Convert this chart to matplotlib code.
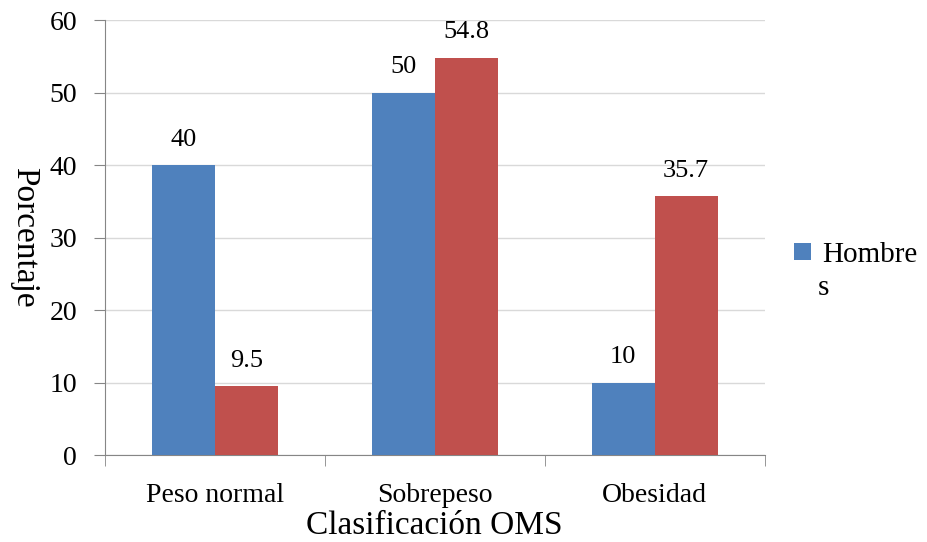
import numpy as np
import matplotlib.pyplot as plt

categorias = ["Peso normal", "Sobrepeso", "Obesidad"]
hombres = [40, 50, 10]
mujeres = [9.5, 54.8, 35.7]

plt.rcParams["font.family"] = ["Liberation Serif", "DejaVu Serif"]

fig = plt.figure(figsize=(9.27, 5.42), dpi=100)
ax = fig.add_axes([0.113, 0.1605, 0.712, 0.8025])

x = np.arange(len(categorias))
w = 0.286
b1 = ax.bar(x - w / 2, hombres, w, color="#4F81BD", label="Hombre", zorder=3)
b2 = ax.bar(x + w / 2, mujeres, w, color="#C0504D", zorder=3)

for bars, vals in ((b1, hombres), (b2, mujeres)):
    for r, v in zip(bars, vals):
        ax.text(r.get_x() + r.get_width() / 2, v + 2.0, f"{v:g}",
                ha="center", va="bottom", fontsize=19)

ax.set_xlim(-0.5, 2.5)
ax.set_ylim(0, 60)
ax.set_yticks(range(0, 61, 10))
ax.set_xticks(x)
ax.set_xticklabels(categorias, fontsize=20)
ax.set_xticks([-0.5, 0.5, 1.5, 2.5], minor=True)
ax.tick_params(axis="x", which="major", length=0, pad=20)
ax.tick_params(axis="x", which="minor", length=8, color="#868686", direction="out")
ax.tick_params(axis="y", labelsize=20, length=8, color="#868686", direction="out", pad=12)
ax.yaxis.grid(True, color="#D9D9D9", linewidth=1, zorder=0)

for s in ("top", "right"):
    ax.spines[s].set_visible(False)
for s in ("left", "bottom"):
    ax.spines[s].set_color("#868686")

ax.set_xlabel("Clasificación OMS", fontsize=24, labelpad=2)
ax.set_ylabel("Porcentaje", fontsize=24, rotation=-90, va="center", labelpad=18)

# legend label wraps onto a second line in the original ("Hombre" / "s")
leg = ax.legend(loc="center left", bbox_to_anchor=(1.045, 0.46), frameon=False,
                fontsize=21, handlelength=0.55, handleheight=0.55, handletextpad=0.4,
                borderpad=0, borderaxespad=0)
fig.text(818 / 927, 1 - 288 / 542, "s", ha="left", va="center", fontsize=21)

fig.savefig("out.png", dpi=100)
